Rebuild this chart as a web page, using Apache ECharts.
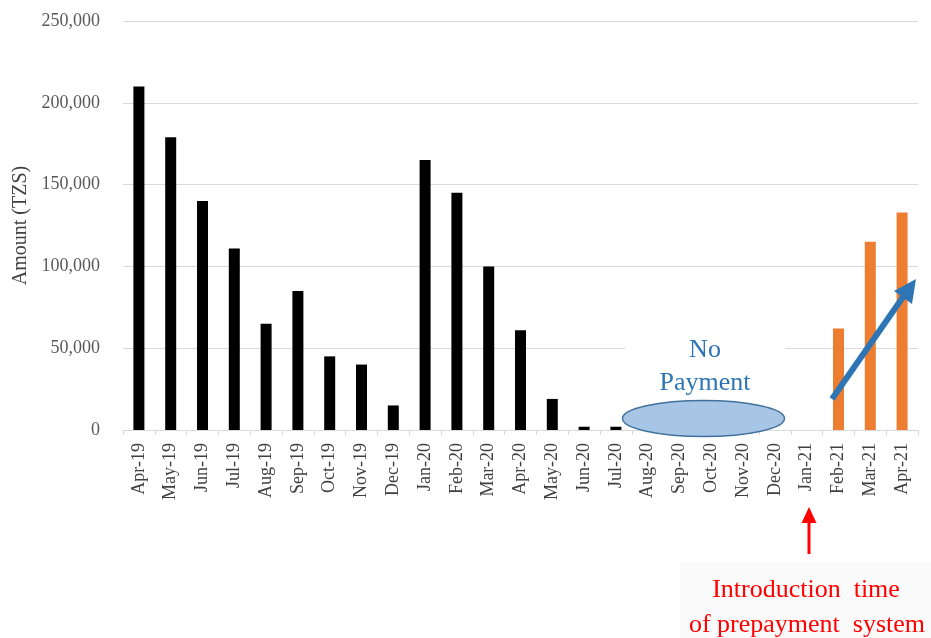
<!DOCTYPE html>
<html>
<head>
<meta charset="utf-8">
<script src="https://cdn.jsdelivr.net/npm/echarts@6/dist/echarts.min.js"></script>
<style>
html,body{margin:0;padding:0;background:#fff;}
#chart{width:931px;height:638px;}
</style>
</head>
<body>
<div id="chart"></div>
<script>
const categories = ['Apr-19','May-19','Jun-19','Jul-19','Aug-19','Sep-19','Oct-19','Nov-19','Dec-19','Jan-20','Feb-20','Mar-20','Apr-20','May-20','Jun-20','Jul-20','Aug-20','Sep-20','Oct-20','Nov-20','Dec-20','Jan-21','Feb-21','Mar-21','Apr-21'];
const paymentsBefore = [210000,179000,140000,111000,65000,85000,45000,40000,15000,165000,145000,100000,61000,19000,2000,2000,0,0,0,0,0,0,null,null,null];
const paymentsAfter = [null,null,null,null,null,null,null,null,null,null,null,null,null,null,null,null,null,null,null,null,null,null,62000,115000,133000];
const yTicks = [0,50000,100000,150000,200000,250000];

const chart = echarts.init(document.getElementById('chart'));
const serif = 'Liberation Serif, Times New Roman, serif';

function fmt(v){ return v.toString().replace(/\B(?=(\d{3})+(?!\d))/g, ','); }

chart.setOption({
  animation:false,
  backgroundColor:'#ffffff',
  grid:{left:123,right:13,top:21,bottom:208},
  xAxis:{
    type:'category',
    data:categories,
    axisLine:{lineStyle:{color:'#d9d9d9',width:1}},
    axisTick:{show:true,alignWithLabel:false,length:5,lineStyle:{color:'#d9d9d9'}},
    axisLabel:{rotate:90,interval:0,margin:13,fontFamily:serif,fontSize:18,color:'#404040'}
  },
  yAxis:{
    type:'value',
    min:yTicks[0],max:yTicks[yTicks.length-1],interval:50000,
    name:'Amount (TZS)',
    nameLocation:'middle',
    nameGap:90,
    nameTextStyle:{fontFamily:serif,fontSize:20,color:'#404040'},
    axisLine:{show:false},
    axisTick:{show:false},
    splitLine:{lineStyle:{color:'#d9d9d9',width:1}},
    axisLabel:{fontFamily:serif,fontSize:18,color:'#595959',margin:23,formatter:fmt}
  },
  series:[
    {type:'bar',data:paymentsBefore,barWidth:11,barGap:'-100%',itemStyle:{color:'#000000'}},
    {type:'bar',data:paymentsAfter,barWidth:11,barGap:'-100%',itemStyle:{color:'#ED7D31'}}
  ],
  graphic:[
    {type:'rect',shape:{x:625,y:336,width:160,height:62},style:{fill:'#ffffff'},z:10},
    {type:'text',x:705,y:350,style:{text:'No',font:'26px '+serif,fill:'#2E75B6',align:'center',verticalAlign:'middle'},z:11},
    {type:'text',x:705,y:383,style:{text:'Payment',font:'26px '+serif,fill:'#2E75B6',align:'center',verticalAlign:'middle'},z:11},
    {type:'ellipse',shape:{cx:703.5,cy:418.5,rx:81,ry:18},style:{fill:'#A7C6E6',stroke:'#41719C',lineWidth:1.5},z:11},
    {type:'line',shape:{x1:832,y1:399,x2:903,y2:297},style:{stroke:'#2E75B6',lineWidth:6},z:12},
    {type:'polygon',shape:{points:[[916,279],[912,304],[894,291]]},style:{fill:'#2E75B6'},z:12},
    {type:'rect',shape:{x:680,y:562,width:251,height:76},style:{fill:'#fafafa'},z:1},
    {type:'line',shape:{x1:809,y1:554,x2:809,y2:520},style:{stroke:'#FF0000',lineWidth:3},z:12},
    {type:'polygon',shape:{points:[[809,507],[801.5,523],[816.5,523]]},style:{fill:'#FF0000'},z:12},
    {type:'text',x:806,y:590,style:{text:'Introduction  time',font:'26px '+serif,fill:'#FF0000',align:'center',verticalAlign:'middle'},z:12},
    {type:'text',x:807,y:625,style:{text:'of prepayment  system',font:'26px '+serif,fill:'#FF0000',align:'center',verticalAlign:'middle'},z:12}
  ]
});
</script>
</body>
</html>
